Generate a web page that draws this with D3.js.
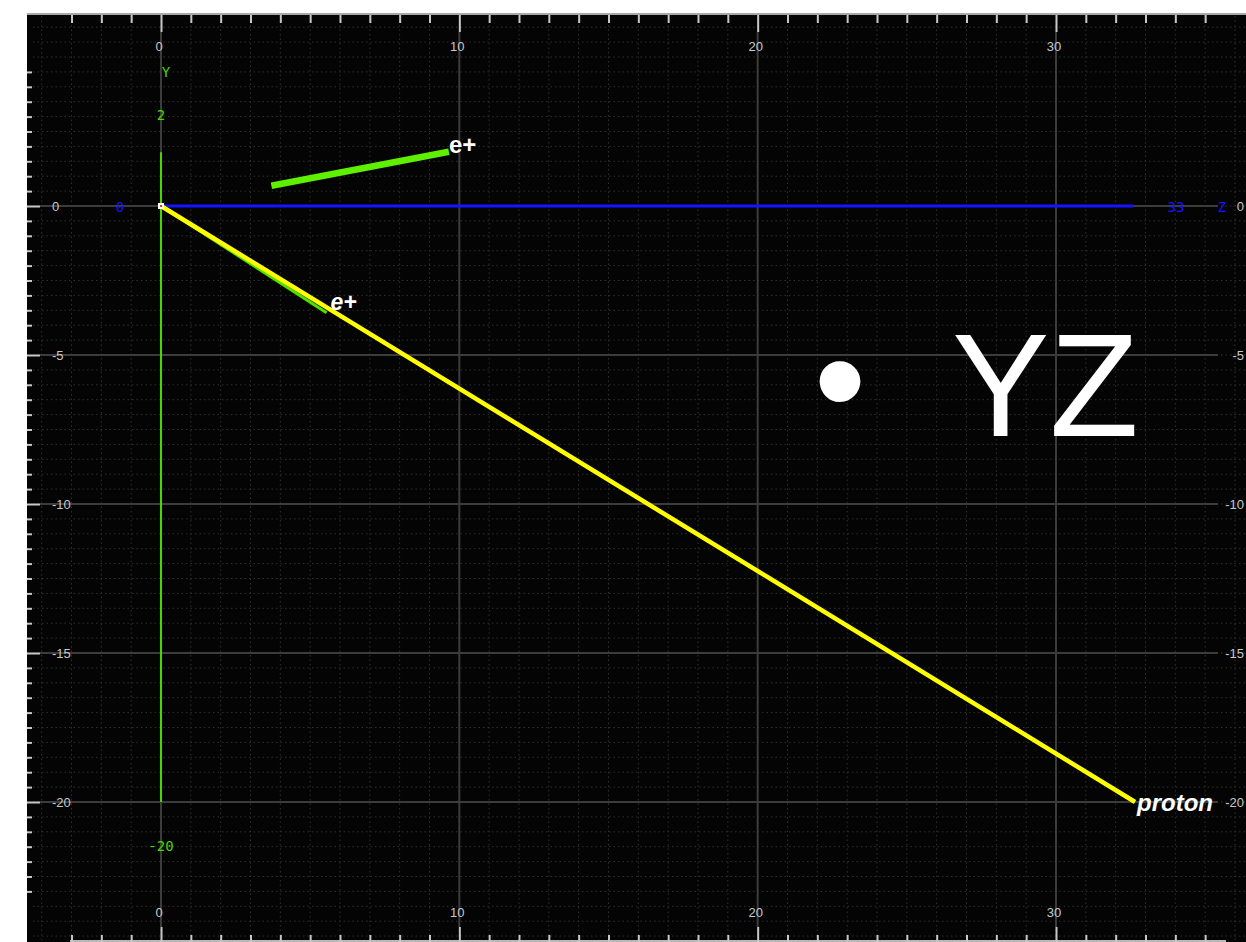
<!DOCTYPE html>
<html>
<head>
<meta charset="utf-8">
<script src="https://cdn.jsdelivr.net/npm/d3@7"></script>
<style>
  html, body { margin: 0; padding: 0; background: #ffffff; }
  svg { display: block; }
</style>
</head>
<body>
<svg id="chart" width="1246" height="942"></svg>
<script>
// ---------------- data ----------------
const xTickLabels = [0, 10, 20, 30];          // Z tick labels (top & bottom)
const yTickLabels = [0, -5, -10, -15, -20];   // Y tick labels (left & right)

// drawn coordinate axes (in data units)
const yAxisExtent = [1.8, -20];
const zAxisExtent = [0, 32.6];
const yAxisLabels = ["Y", "2", "-20"];
const zAxisLabels = ["0", "33", "Z"];

// tracks: [z, y] points
const trackNames = ["e+", "proton", "e+"];
const trackColors = ["#4fe000", "#ffff00", "#5ff000"];
const trackZ = [[0, 5.55], [0, 32.65], [3.7, 9.65]];
const trackY = [[0, -3.58], [0, -20], [0.68, 1.82]];

const viewTitle = "YZ";

// ---------------- layout ----------------
const svg = d3.select("#chart");
const W = 1246, H = 942;
const plot = { left: 27, top: 14, right: 1246, bottom: 942 };

const x = d3.scaleLinear().domain([0, 30]).range([161, 1056]);
const y = d3.scaleLinear().domain([0, -20]).range([206, 802]);

svg.append("rect").attr("x", 0).attr("y", 0).attr("width", W).attr("height", H).attr("fill", "#fff");
svg.append("rect").attr("x", plot.left).attr("y", plot.top)
  .attr("width", plot.right - plot.left).attr("height", plot.bottom - plot.top).attr("fill", "#040404");

const grid = svg.append("g");
// dotted minor grid: vertical every 1 unit, horizontal every 0.5 unit
const xMinor = d3.range(Math.ceil(x.invert(plot.left + 2)), x.invert(plot.right) + 0.01, 1);
const yMinor = d3.range(-49, 13, 1).map(d => d / 2).filter(v => y(v) > plot.top + 4 && y(v) < plot.bottom - 2);

grid.selectAll("line.vmin").data(xMinor).join("line")
  .attr("x1", d => x(d)).attr("x2", d => x(d))
  .attr("y1", plot.top + 2).attr("y2", plot.bottom)
  .attr("stroke", "#303030").attr("stroke-width", 1).attr("stroke-dasharray", "1.5,3");
grid.selectAll("line.hmin").data(yMinor).join("line")
  .attr("x1", plot.left + 6).attr("x2", plot.right)
  .attr("y1", d => y(d)).attr("y2", d => y(d))
  .attr("stroke", "#303030").attr("stroke-width", 1).attr("stroke-dasharray", "1.5,3");

// major solid grid
grid.selectAll("line.vmaj").data(xTickLabels).join("line")
  .attr("x1", d => x(d)).attr("x2", d => x(d))
  .attr("y1", 32).attr("y2", 927)
  .attr("stroke", "#3c3c3c").attr("stroke-width", 2);
grid.selectAll("line.hmaj").data(yTickLabels).join("line")
  .attr("x1", 40).attr("x2", 1218)
  .attr("y1", d => y(d)).attr("y2", d => y(d))
  .attr("stroke", "#3c3c3c").attr("stroke-width", 2);

// frame lines
svg.append("line").attr("x1", plot.left).attr("x2", W).attr("y1", 14).attr("y2", 14)
  .attr("stroke", "#a8a8a8").attr("stroke-width", 2);
svg.append("line").attr("x1", 70).attr("x2", 1226).attr("y1", 941).attr("y2", 941)
  .attr("stroke", "#b8b8b8").attr("stroke-width", 2);

// ruler ticks using d3 axes
const topTicks = d3.range(-3, 36, 1);
const leftTicks = d3.range(-46, 10, 1).map(d => d / 2);

const topAxis = d3.axisBottom(x).tickValues(topTicks).tickFormat("")
  .tickSize(8).tickSizeOuter(0);
const gTop = svg.append("g").attr("transform", "translate(0,15)").call(topAxis);
gTop.select(".domain").remove();
gTop.selectAll(".tick line").attr("stroke", "#c8c8c8").attr("stroke-width", 2)
  .attr("y2", d => d % 10 === 0 ? 17 : 8);

const bottomAxis = d3.axisTop(x).tickValues(topTicks).tickFormat("")
  .tickSize(7).tickSizeOuter(0);
const gBot = svg.append("g").attr("transform", "translate(0,942)").call(bottomAxis);
gBot.select(".domain").remove();
gBot.selectAll(".tick line").attr("stroke", "#c8c8c8").attr("stroke-width", 2)
  .attr("y2", d => d % 10 === 0 ? -15 : -7);

const leftAxis = d3.axisRight(y).tickValues(leftTicks).tickFormat("")
  .tickSize(5).tickSizeOuter(0);
const gLeft = svg.append("g").attr("transform", "translate(27,0)").call(leftAxis);
gLeft.select(".domain").remove();
gLeft.selectAll(".tick line").attr("stroke", "#c8c8c8").attr("stroke-width", 2)
  .attr("x2", d => d % 5 === 0 ? 13 : 5);

// tick labels
const labelFont = "Liberation Sans, Arial, sans-serif";
svg.append("g").selectAll("text").data(xTickLabels).join("text")
  .attr("x", d => x(d) - 2).attr("y", 51)
  .attr("text-anchor", "middle").attr("font-family", labelFont).attr("font-size", 13)
  .attr("fill", "#c8c8c8").text(d => d);
svg.append("g").selectAll("text").data(xTickLabels).join("text")
  .attr("x", d => x(d) - 2).attr("y", 917)
  .attr("text-anchor", "middle").attr("font-family", labelFont).attr("font-size", 13)
  .attr("fill", "#c8c8c8").text(d => d);
svg.append("g").selectAll("text").data(yTickLabels).join("text")
  .attr("x", 52).attr("y", d => y(d) + 5)
  .attr("text-anchor", "start").attr("font-family", labelFont).attr("font-size", 13)
  .attr("fill", "#c8c8c8").text(d => d);
svg.append("g").selectAll("text").data(yTickLabels).join("text")
  .attr("x", 1244).attr("y", d => y(d) + 5)
  .attr("text-anchor", "end").attr("font-family", labelFont).attr("font-size", 13)
  .attr("fill", "#c8c8c8").text(d => d);

// coordinate axes
const mono = "DejaVu Sans Mono, monospace";
svg.append("line")
  .attr("x1", x(0)).attr("x2", x(0)).attr("y1", y(yAxisExtent[0])).attr("y2", y(yAxisExtent[1]))
  .attr("stroke", "#4ad600").attr("stroke-width", 2);
svg.append("line")
  .attr("x1", x(zAxisExtent[0])).attr("x2", x(zAxisExtent[1])).attr("y1", y(0)).attr("y2", y(0))
  .attr("stroke", "#1414ff").attr("stroke-width", 3);

const yLabPos = [[x(0) + 5, 77], [x(0), 120], [x(0), 851]];
svg.append("g").selectAll("text").data(yAxisLabels).join("text")
  .attr("x", (d, i) => yLabPos[i][0]).attr("y", (d, i) => yLabPos[i][1])
  .attr("text-anchor", "middle").attr("font-family", mono).attr("font-size", 14)
  .attr("fill", "#4ad600").text(d => d);
const zLabPos = [120, 1176, 1222];
svg.append("g").selectAll("text").data(zAxisLabels).join("text")
  .attr("x", (d, i) => zLabPos[i]).attr("y", y(0) + 6)
  .attr("text-anchor", "middle").attr("font-family", mono).attr("font-size", 14)
  .attr("fill", "#1414ff").text(d => d);

// tracks
const line = d3.line().x(d => x(d[0])).y(d => y(d[1]));
const widths = [3, 4.5, 6.5];
trackNames.forEach((name, i) => {
  const pts = trackZ[i].map((z, k) => [z, trackY[i][k]]);
  svg.append("path").datum(pts).attr("d", line)
    .attr("fill", "none").attr("stroke", trackColors[i])
    .attr("stroke-width", widths[i]).attr("stroke-linecap", "butt");
});

// origin marker
svg.append("rect").attr("x", x(0) - 3).attr("y", y(0) - 3).attr("width", 6).attr("height", 6).attr("fill", "#fff");
svg.append("rect").attr("x", x(0) - 1).attr("y", y(0) - 1).attr("width", 2).attr("height", 2).attr("fill", "#ff2020");

// track labels at track ends
const labelOffsets = [[4, -3, 23, "italic"], [2, 9, 24, "italic"], [0, 1, 24, "normal"]];
trackNames.forEach((name, i) => {
  const n = trackZ[i].length - 1;
  const o = labelOffsets[i];
  svg.append("text")
    .attr("x", x(trackZ[i][n]) + o[0]).attr("y", y(trackY[i][n]) + o[1])
    .attr("font-family", labelFont).attr("font-weight", "bold").attr("font-style", o[3])
    .attr("font-size", o[2]).attr("fill", "#ffffff").text(name);
});

// view title
svg.append("text").attr("x", 840).attr("y", 431).attr("text-anchor", "middle")
  .attr("font-family", labelFont).attr("font-size", 150).attr("fill", "#fff").text("•");
svg.append("text").attr("x", 952).attr("y", 436)
  .attr("font-family", labelFont).attr("font-size", 146).attr("fill", "#fff").text(viewTitle);
</script>
</body>
</html>
